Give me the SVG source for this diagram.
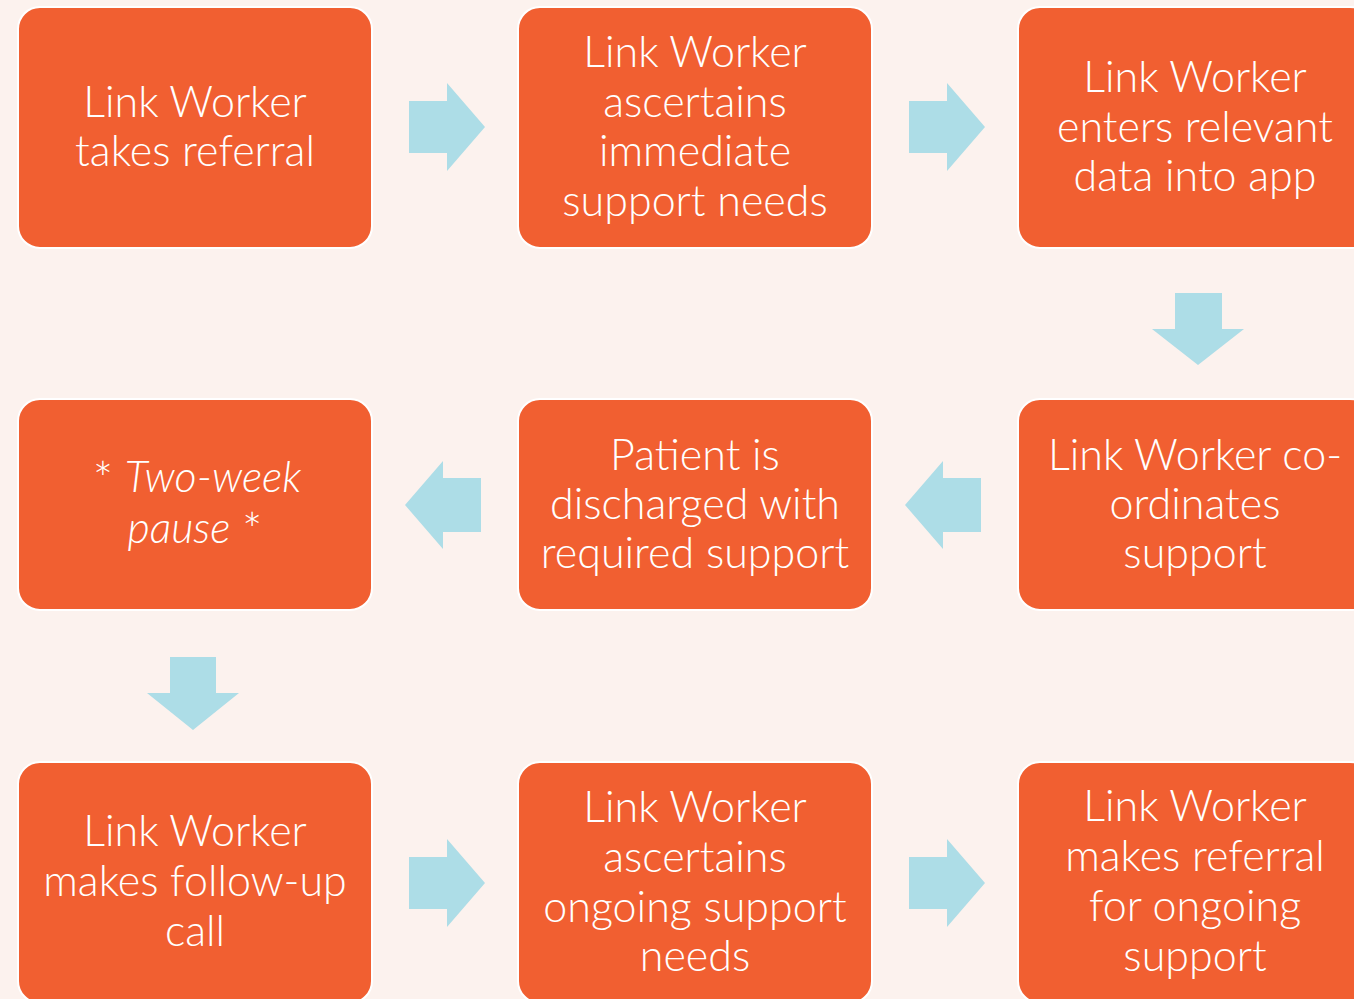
<svg xmlns="http://www.w3.org/2000/svg" width="1354" height="999" viewBox="0 0 1354 999">
<style>
.box{fill:#F15F31;stroke:#FFFFFF;stroke-width:2}
.arr{fill:#ADDDE7}
.t{font-family:Lato,"Open Sans","Liberation Sans",sans-serif;font-weight:300;font-size:43px;fill:#FFFFFF;text-anchor:middle}
.i{font-style:italic}
.s{font-size:48px}
</style>
<rect width="1354" height="999" fill="#FCF2EE"/>
<g id="connectors">
<polygon class="arr" points="409,101 447,101 447,83 485,127 447,171 447,153 409,153"/>
<polygon class="arr" points="909,101 947,101 947,83 985,127 947,171 947,153 909,153"/>
<polygon class="arr" points="1175,293 1222,293 1222,329 1244,329 1198,365 1152,329 1175,329"/>
<polygon class="arr" points="981,478 943,478 943,461 905,505 943,549 943,532 981,532"/>
<polygon class="arr" points="481,478 443,478 443,461 405,505 443,549 443,532 481,532"/>
<polygon class="arr" points="170,657 216,657 216,693 239,693 193,730 147,693 170,693"/>
<polygon class="arr" points="409,857 447,857 447,839 485,883 447,927 447,909 409,909"/>
<polygon class="arr" points="909,857 947,857 947,839 985,883 947,927 947,909 909,909"/>
</g>
<g id="n1"><rect class="box" x="18" y="7" width="354" height="241" rx="22"/>
<text class="t" x="195"><tspan x="195" y="117">Link Worker</tspan><tspan x="195" y="166">takes referral</tspan></text></g>
<g id="n2"><rect class="box" x="518" y="7" width="354" height="241" rx="22"/>
<text class="t"><tspan x="695" y="67">Link Worker</tspan><tspan x="695" y="117">ascertains</tspan><tspan x="695" y="166">immediate</tspan><tspan x="695" y="216">support needs</tspan></text></g>
<g id="n3"><rect class="box" x="1018" y="7" width="354" height="241" rx="22"/>
<text class="t"><tspan x="1195" y="92">Link Worker</tspan><tspan x="1195" y="142">enters relevant</tspan><tspan x="1195" y="191">data into app</tspan></text></g>
<g id="n4"><rect class="box" x="1018" y="399" width="354" height="211" rx="22"/>
<text class="t"><tspan x="1195" y="470">Link Worker co-</tspan><tspan x="1195" y="519">ordinates</tspan><tspan x="1195" y="568">support</tspan></text></g>
<g id="n5"><rect class="box" x="518" y="399" width="354" height="211" rx="22"/>
<text class="t"><tspan x="695" y="470">Patient is</tspan><tspan x="695" y="519">discharged with</tspan><tspan x="695" y="568">required support</tspan></text></g>
<g id="n6"><rect class="box" x="18" y="399" width="354" height="211" rx="22"/>
<text class="t"><tspan x="197" y="492"><tspan class="s" dy="4">*</tspan><tspan dy="-4">  </tspan><tspan class="i">Two-week</tspan></tspan></text>
<text class="t"><tspan x="195" y="543"><tspan class="i">pause</tspan> <tspan class="s" dy="4">*</tspan></tspan></text></g>
<g id="n7"><rect class="box" x="18" y="762" width="354" height="241" rx="22"/>
<text class="t"><tspan x="195" y="846">Link Worker</tspan><tspan x="195" y="896">makes follow-up</tspan><tspan x="195" y="946">call</tspan></text></g>
<g id="n8"><rect class="box" x="518" y="762" width="354" height="241" rx="22"/>
<text class="t"><tspan x="695" y="822">Link Worker</tspan><tspan x="695" y="872">ascertains</tspan><tspan x="695" y="922">ongoing support</tspan><tspan x="695" y="971">needs</tspan></text></g>
<g id="n9"><rect class="box" x="1018" y="762" width="354" height="241" rx="22"/>
<text class="t"><tspan x="1195" y="821">Link Worker</tspan><tspan x="1195" y="871">makes referral</tspan><tspan x="1195" y="921">for ongoing</tspan><tspan x="1195" y="971">support</tspan></text></g>
</svg>
